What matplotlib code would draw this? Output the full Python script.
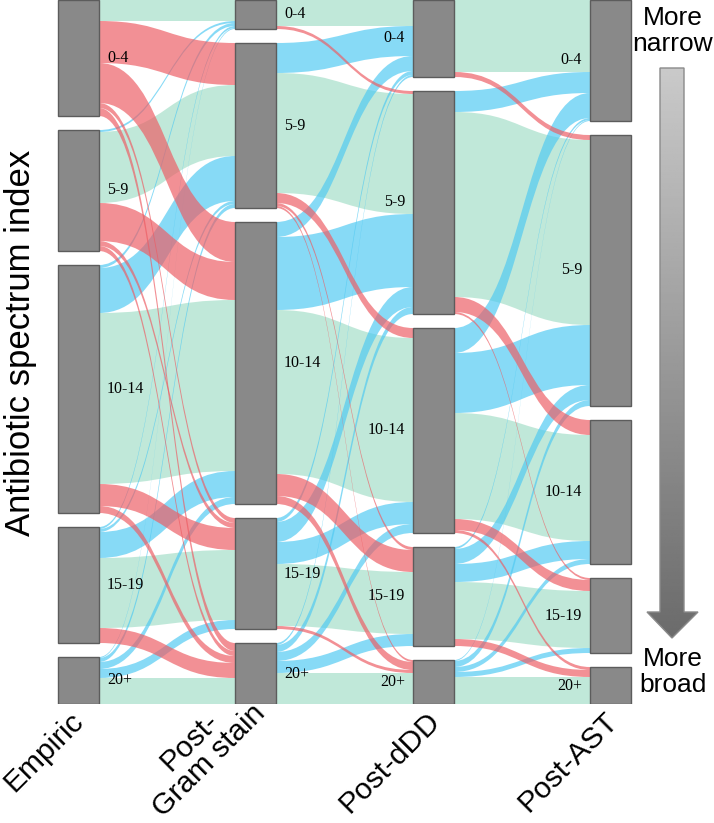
import matplotlib

matplotlib.use("Agg")
import matplotlib.pyplot as plt  # noqa: E402
import numpy as np  # noqa: E402
from matplotlib.path import Path  # noqa: E402
from matplotlib.patches import PathPatch, Rectangle, Polygon  # noqa: E402

# stages and spectrum-index bins
stages = ["Empiric", "Post-\nGram stain", "Post-dDD", "Post-AST"]
bins = ["0-4", "5-9", "10-14", "15-19", "20+"]

# flows[i][j] = patients moving from bin i (left stage) to bin j (right stage)
empiric_to_gram = [
    [21, 42, 40, 5, 8],
    [2, 71, 38, 5, 5],
    [3, 45, 171, 22, 7],
    [2, 3, 26, 70, 15],
    [1, 4, 7, 9, 26],
]
gram_to_ddd = [
    [26, 3, 0, 0, 0],
    [30, 120, 10, 3, 2],
    [15, 73, 164, 22, 8],
    [4, 20, 22, 62, 3],
    [2, 7, 9, 12, 31],
]
ddd_to_ast = [
    [72, 5, 0, 0, 0],
    [21, 185, 15, 2, 0],
    [25, 60, 106, 11, 3],
    [2, 15, 18, 57, 7],
    [1, 6, 5, 5, 27],
]

transitions = [np.array(m) for m in (empiric_to_gram, gram_to_ddd, ddd_to_ast)]
sizes = [transitions[0].sum(axis=1)] + [m.sum(axis=0) for m in transitions]

GAP = 14
BOX_W = 41
col_left = [58, 235, 413, 590]
TOTAL_H = sizes[0].sum() + GAP * 4

tops = [np.concatenate([[0], np.cumsum(s)[:-1]]) + GAP * np.arange(5) for s in sizes]

GREEN = (0.64, 0.87, 0.78)
RED = (0.93, 0.36, 0.39)
BLUE = (0.31, 0.79, 0.95)

W, H = 714, 823
fig = plt.figure(figsize=(W / 100, H / 100), dpi=100)
ax = fig.add_axes([0, (H - TOTAL_H) / H, 1, TOTAL_H / H])
ax.set_xlim(0, W)
ax.set_ylim(TOTAL_H, 0)
ax.axis("off")


def band(x0, x1, ya, yb, w, color, z):
    xm = (x0 + x1) / 2
    verts = [(x0, ya), (xm, ya), (xm, yb), (x1, yb),
             (x1, yb + w), (xm, yb + w), (xm, ya + w), (x0, ya + w), (x0, ya)]
    codes = [Path.MOVETO, Path.CURVE4, Path.CURVE4, Path.CURVE4,
             Path.LINETO, Path.CURVE4, Path.CURVE4, Path.CURVE4, Path.CLOSEPOLY]
    ax.add_patch(PathPatch(Path(verts, codes), facecolor=color, edgecolor="none",
                           alpha=0.68, zorder=z))


for t, m in enumerate(transitions):
    x0 = col_left[t] + BOX_W
    x1 = col_left[t + 1]
    out_off = tops[t].astype(float).copy()
    in_off = tops[t + 1].astype(float).copy()
    for i in range(5):
        for j in range(5):
            w = m[i, j]
            if w > 0:
                if i == j:
                    color, z = GREEN, 1
                elif j > i:
                    color, z = RED, 3
                else:
                    color, z = BLUE, 2
                band(x0, x1, out_off[i], in_off[j], w, color, z)
            out_off[i] += w
            in_off[j] += w

# stage boxes and bin labels
for s in range(4):
    for k in range(5):
        ax.add_patch(Rectangle((col_left[s], tops[s][k]), BOX_W, sizes[s][k],
                               facecolor="#898989", edgecolor="#5c5c5c", lw=1.0, zorder=5))
        yc = tops[s][k] + sizes[s][k] / 2
        if s < 2:
            ax.text(col_left[s] + BOX_W + 8, yc, bins[k], ha="left", va="center",
                    fontsize=11.5, family="Liberation Serif", zorder=6)
        else:
            ax.text(col_left[s] - 8, yc, bins[k], ha="right", va="center",
                    fontsize=11.5, family="Liberation Serif", zorder=6)

# stage names, rotated under the columns
label_pos = [(44, 752), (199, 751), (390, 762), (568, 762)]
for name, (lx, ly) in zip(stages, label_pos):
    ax.text(lx, ly, name, rotation=45, rotation_mode="anchor", ha="center", va="center",
            multialignment="center", fontsize=21.5, family="Liberation Sans",
            linespacing=1.0, clip_on=False)

ax.text(21, 343, "Antibiotic spectrum index", rotation=90, ha="center", va="center",
        fontsize=25, family="Liberation Sans")

# narrow -> broad arrow with a grey gradient
arrow = Polygon([(660, 68), (684, 68), (684, 612), (698, 612), (672, 638),
                 (647, 612), (660, 612)], closed=True, facecolor="none",
                edgecolor="#8a8a8a", lw=1.0, zorder=4)
ax.add_patch(arrow)
grad = np.linspace(0.79, 0.42, 256).reshape(-1, 1)
img = ax.imshow(grad, cmap="gray", vmin=0, vmax=1, extent=[647, 698, 638, 68],
                aspect="auto", zorder=3)
img.set_clip_path(arrow)
ax.set_xlim(0, W)
ax.set_ylim(TOTAL_H, 0)

ax.text(673, 31, "More\nnarrow", ha="center", va="center", fontsize=19,
        family="Liberation Sans", linespacing=1.1, zorder=7)
ax.text(673, 672, "More\nbroad", ha="center", va="center", fontsize=19,
        family="Liberation Sans", linespacing=1.1, zorder=7)

fig.savefig("out.png", dpi=100, facecolor="white")
